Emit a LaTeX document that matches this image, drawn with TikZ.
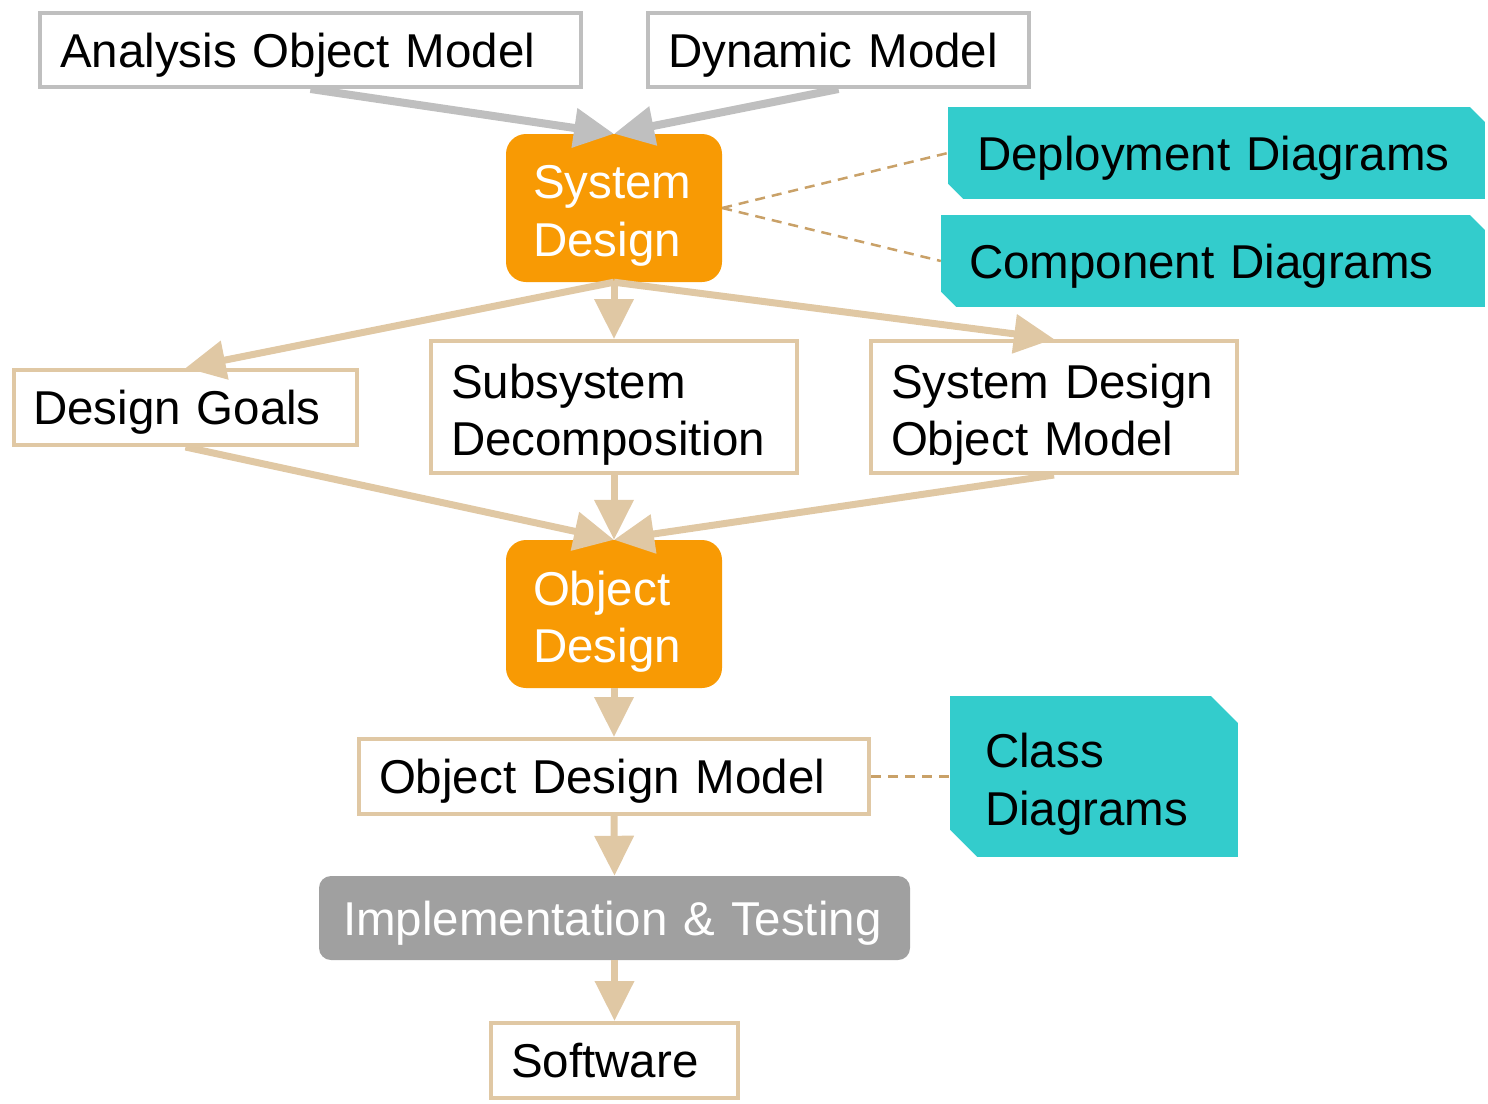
\documentclass[tikz,border=0pt]{standalone}
\usepackage{fontspec}
\setmainfont{Liberation Sans}
\usetikzlibrary{arrows.meta}
\definecolor{orng}{HTML}{F89A04}
\definecolor{tealnote}{HTML}{33CCCC}
\definecolor{tanline}{HTML}{E0C8A4}
\definecolor{grayline}{HTML}{BFBFBF}
\definecolor{implgray}{HTML}{A0A0A0}
\definecolor{dashtan}{HTML}{C9A168}
\tikzset{
  lbl/.style={font=\fontsize{47.5}{57.5}\selectfont, align=left, inner ysep=0pt, text depth=0pt},
  twolines/.style={text depth=52pt},
  graybox/.style={lbl, draw=grayline, line width=4pt},
  tanbox/.style={lbl, draw=tanline, line width=4pt},
  phase/.style={lbl, fill=orng, text=white, rounded corners=20pt},
  implbox/.style={lbl, fill=implgray, text=white, rounded corners=12pt},
  note/.style={lbl, fill=tealnote, path picture={
      \fill[white] (path picture bounding box.north east) -- ++(-#1,0pt) -- ++(#1,-#1) -- cycle;
      \fill[white] (path picture bounding box.south west) -- ++(#1,0pt) -- ++(-#1,#1) -- cycle;}},
  grayarrow/.style={draw=grayline, line width=8pt, -{Triangle[length=40pt,width=38pt]}},
  tanarrow/.style={draw=tanline, line width=7pt, -{Triangle[length=40pt,width=38pt]}},
  dashlink/.style={draw=dashtan, line width=2.5pt, dash pattern=on 10pt off 7pt},
}
\begin{document}
\begin{tikzpicture}[x=1pt,y=-1pt]
\useasboundingbox (0,0) rectangle (1488,1103);

% models feeding system design
\node[graybox, minimum height=74pt, text width=501pt, inner xsep=20pt] (aom) at (310.5,50) {Analysis Object Model};
\node[graybox, minimum height=74pt, text width=341pt, inner xsep=20pt] (dyn) at (838.5,50) {Dynamic Model};

% system design and its diagrams
\node[phase, twolines, minimum height=148pt, text width=162pt, inner xsep=27pt] (sysd) at (614,208) {System\\Design};
\node[note=15pt, minimum height=92pt, text width=479pt, inner xsep=29pt] (dep) at (1216.5,153) {Deployment Diagrams};
\node[note=15pt, minimum height=92pt, text width=488pt, inner xsep=28pt] (comp) at (1213,261) {Component Diagrams};

% products of system design
\node[tanbox, minimum height=75pt, text width=305pt, inner xsep=19pt] (dg) at (185.5,407.5) {Design Goals};
\node[tanbox, twolines, minimum height=132pt, text width=326pt, inner xsep=20pt] (sub) at (614,407) {Subsystem\\Decomposition};
\node[tanbox, twolines, minimum height=132pt, text width=326pt, inner xsep=20pt] (sdom) at (1054,407) {System Design\\Object Model};

% object design
\node[phase, twolines, minimum height=148pt, text width=162pt, inner xsep=27pt] (objd) at (614,614) {Object\\Design};
\node[tanbox, minimum height=75pt, text width=470pt, inner xsep=20pt] (odm) at (614,776.5) {Object Design Model};
\node[note=27pt, twolines, minimum height=161pt, text width=218pt, inner xsep=35pt] (cls) at (1094,776.5) {Class\\Diagrams};

% implementation
\node[implbox, minimum height=84pt, text width=543pt, inner xsep=24pt] (impl) at (614.5,918) {Implementation \& Testing};
\node[tanbox, minimum height=75pt, text width=207pt, inner xsep=20pt] (sw) at (614.5,1060.5) {Software};

% connectors
\draw[grayarrow] (aom.south) -- (sysd.north);
\draw[grayarrow] (dyn.south) -- (sysd.north);
\draw[tanarrow] (sysd.south) -- (dg.north);
\draw[tanarrow] (sysd.south) -- (sub.north);
\draw[tanarrow] (sysd.south) -- (sdom.north);
\draw[tanarrow] (dg.south) -- (objd.north);
\draw[tanarrow] (sub.south) -- (objd.north);
\draw[tanarrow] (sdom.south) -- (objd.north);
\draw[tanarrow] (objd.south) -- (odm.north);
\draw[tanarrow] (odm.south) -- (impl.north);
\draw[tanarrow] (impl.south) -- (sw.north);
\draw[dashlink] (sysd.east) -- (dep.west);
\draw[dashlink] (sysd.east) -- (comp.west);
\draw[dashlink] (odm.east) -- (cls.west);
\end{tikzpicture}
\end{document}
